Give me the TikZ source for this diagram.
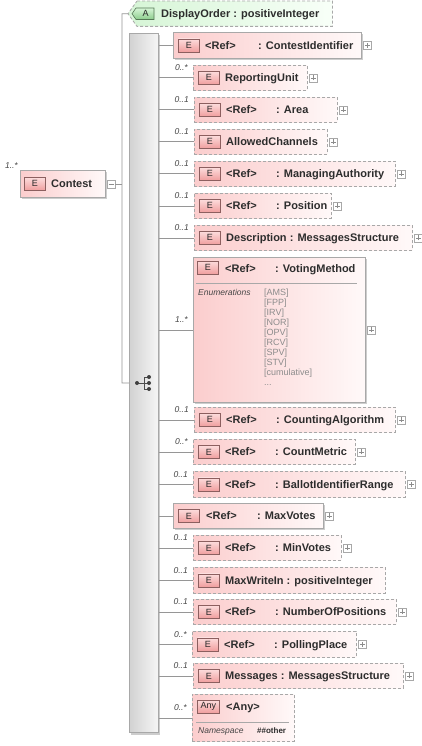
\documentclass[tikz,border=0pt]{standalone}
\usepackage{fontspec}
\setmainfont{Liberation Sans}
\usetikzlibrary{calc}
\definecolor{bordergray}{RGB}{168,168,168}
\definecolor{linegray}{RGB}{150,150,150}
\definecolor{pinkL}{RGB}{251,205,205}
\definecolor{pinkR}{RGB}{255,249,249}
\definecolor{badgeT}{RGB}{253,220,220}
\definecolor{badgeB}{RGB}{240,158,158}
\definecolor{badgeD}{RGB}{140,95,95}
\definecolor{txt}{RGB}{45,45,45}
\definecolor{multc}{RGB}{70,70,70}
\definecolor{enumc}{RGB}{140,140,140}
\definecolor{greenL}{RGB}{214,245,214}
\definecolor{greenR}{RGB}{248,255,248}
\definecolor{gbadgeT}{RGB}{215,245,215}
\definecolor{gbadgeB}{RGB}{140,205,140}
\definecolor{gbadgeD}{RGB}{85,120,85}
\definecolor{barL}{RGB}{210,210,210}
\definecolor{barR}{RGB}{246,246,246}
\definecolor{shadowc}{RGB}{205,205,205}
\tikzset{
  conn/.style={draw=linegray, line width=0.8pt},
  basebox/.style={inner sep=0, left color=pinkL, right color=pinkR, anchor=north west},
  solidbox/.style={basebox, draw=bordergray, line width=0.8pt},
  dashbox/.style={basebox, draw=bordergray, line width=0.8pt, dash pattern=on 3pt off 2pt},
  ebadge/.style={draw=badgeD, line width=0.6pt, top color=badgeT, bottom color=badgeB,
    minimum width=21pt, minimum height=13pt, inner sep=0,
    font=\fontsize{9}{10}\selectfont, text=black!85, anchor=west},
  etext/.style={font=\bfseries\fontsize{11}{13}\selectfont, text=txt, inner sep=0, anchor=base west},
  mult/.style={font=\itshape\fontsize{8.5}{10}\selectfont, text=multc, inner sep=0, anchor=east},
  enumlbl/.style={font=\itshape\fontsize{8.5}{10}\selectfont, text=multc, inner sep=0, anchor=base west},
  enumval/.style={font=\fontsize{9}{10}\selectfont, text=enumc, inner sep=0, anchor=base west},
  plusbox/.style={draw=bordergray, fill=white, minimum size=8pt, inner sep=0, anchor=west, line width=0.5pt,
    path picture={\draw[black!45, line width=0.6pt]
      ([xshift=-2.5pt]path picture bounding box.center) -- ([xshift=2.5pt]path picture bounding box.center)
      ([yshift=-2.5pt]path picture bounding box.center) -- ([yshift=2.5pt]path picture bounding box.center);}},
  minusbox/.style={draw=bordergray, fill=white, minimum size=8pt, inner sep=0, anchor=west, line width=0.5pt,
    path picture={\draw[black!45, line width=0.6pt]
      ([xshift=-2.5pt]path picture bounding box.center) -- ([xshift=2.5pt]path picture bounding box.center);}},
  seqbar/.style={draw=bordergray, line width=0.8pt, left color=barL, right color=barR, inner sep=0, anchor=north west},
  attrbox/.style={draw=bordergray, dash pattern=on 3pt off 2pt, line width=0.8pt, left color=greenL, right color=greenR},
  abadge/.style={draw=gbadgeD, line width=0.6pt, top color=gbadgeT, bottom color=gbadgeB}
}
% id, x, y, w, h, style
\newcommand\EBox[6]{\node[#6, minimum width=#4pt, minimum height=#5pt] (#1) at (#2,#3) {};}
\newcommand\Shadow[5]{\fill[shadowc] ({#2+2},{#3+2}) rectangle ({#2+#4+2},{#3+#5+2});}
\newcommand\EBadge[1]{\node[ebadge] (#1-b) at ([xshift=5pt]#1.west) {E};}
\newcommand\RefTxt[2]{\node[etext] (#1-r) at ([xshift=32pt,yshift=-4pt]#1.west) {<Ref>};
  \node[etext] (#1-n) at ([xshift=82pt,yshift=-4pt]#1.west) {: #2};}
\newcommand\PlainTxt[2]{\node[etext] (#1-n) at ([xshift=32pt,yshift=-4pt]#1.west) {#2};}
\newcommand\PlusAt[1]{\node[plusbox] (#1-p) at ([xshift=1.5pt]#1.east) {};}
\newcommand\Link[2]{\draw[conn] (seq.east |- #1.west) -- (#1.west);
  \node[mult] (#1-m) at ([xshift=-5pt,yshift=10pt]#1.west) {#2};}
\begin{document}
\begin{tikzpicture}[x=1pt,y=-1pt]
\useasboundingbox[fill=white] (0,0) rectangle (421,746);

% ---------- attribute DisplayOrder
\node[inner sep=0, minimum width=195pt, minimum height=25pt, anchor=north west] (attr) at (137,1) {};
\coordinate (attrtip) at ([xshift=-9pt]attr.west);
\path[attrbox] (attr.north west) -- (attr.north east) -- (attr.south east) -- (attr.south west) -- (attrtip) -- cycle;
\path[abadge] (136,8) -- (154,8) -- (154,19.5) -- (136,19.5) -- (132,13.75) -- cycle;
\node[font=\fontsize{9}{10}\selectfont, text=black!85, inner sep=0] (attr-a) at (145.5,13.75) {A};
\node[etext] (attr-t) at (161,17.5) {DisplayOrder : positiveInteger};

% ---------- sequence bar
\fill[shadowc] (131,35) rectangle (160,735);
\node[seqbar, minimum width=29pt, minimum height=699pt] (seq) at (129,33) {};

% ---------- Contest
\Shadow{contest}{20}{170}{85}{27}
\EBox{contest}{20}{170}{85}{27}{solidbox}
\node[ebadge] (contest-b) at ([xshift=4pt]contest.west) {E};
\node[etext] (contest-n) at ([xshift=31pt,yshift=-4pt]contest.west) {Contest};
\node[mult] (contest-m) at ([xshift=-2pt,yshift=4pt]contest.north west) {1..*};
\node[minusbox] (cminus) at ([xshift=1pt]contest.east) {};

% ---------- main connectors
\coordinate (vtop) at (122,13.75);
\coordinate (vbot) at (122,383);
\draw[conn] (attrtip) -- (vtop) -- (vbot) -- (seq.west |- vbot);
\draw[conn] (cminus.east) -- (cminus.east -| vtop);

% sequence icon
\coordinate (si) at (143,383);
\draw[black!70, line width=0.8pt] ([xshift=-6pt]si) -- ([xshift=1pt]si)
  ([xshift=1pt,yshift=6pt]si) -- ([xshift=1pt,yshift=-6pt]si)
  ([xshift=1pt,yshift=6pt]si) -- ([xshift=6pt,yshift=6pt]si)
  ([xshift=1pt]si) -- ([xshift=6pt]si)
  ([xshift=1pt,yshift=-6pt]si) -- ([xshift=6pt,yshift=-6pt]si);
\fill[black!75] ([xshift=-6pt]si) circle (2pt)
  ([xshift=6pt,yshift=6pt]si) circle (2pt)
  ([xshift=6pt]si) circle (2pt)
  ([xshift=6pt,yshift=-6pt]si) circle (2pt);

% ---------- children
% 1 ContestIdentifier
\Shadow{ci}{173}{32}{188}{26}
\EBox{ci}{173}{32}{188}{26}{solidbox}\EBadge{ci}
\node[etext] (ci-r) at ([xshift=32pt,yshift=-4pt]ci.west) {<Ref>};
\node[etext] (ci-n) at ([xshift=85pt,yshift=-4pt]ci.west) {: ContestIdentifier};
\PlusAt{ci}
\draw[conn] (seq.east |- ci.west) -- (ci.west);
% 2 ReportingUnit
\EBox{ru}{193}{65}{114}{25}{dashbox}\EBadge{ru}\PlainTxt{ru}{ReportingUnit}\PlusAt{ru}\Link{ru}{0..*}
% 3 Area
\EBox{area}{194}{97}{143}{25}{dashbox}\EBadge{area}\RefTxt{area}{Area}\PlusAt{area}\Link{area}{0..1}
% 4 AllowedChannels
\EBox{ac}{194}{129}{133}{25}{dashbox}\EBadge{ac}\PlainTxt{ac}{AllowedChannels}\PlusAt{ac}\Link{ac}{0..1}
% 5 ManagingAuthority
\EBox{ma}{194}{161}{201}{25}{dashbox}\EBadge{ma}\RefTxt{ma}{ManagingAuthority}\PlusAt{ma}\Link{ma}{0..1}
% 6 Position
\EBox{pos}{194}{193}{137}{25}{dashbox}\EBadge{pos}\RefTxt{pos}{Position}\PlusAt{pos}\Link{pos}{0..1}
% 7 Description
\EBox{desc}{194}{225}{218}{25}{dashbox}\EBadge{desc}\PlainTxt{desc}{Description : MessagesStructure}\PlusAt{desc}\Link{desc}{0..1}
% 8 VotingMethod
\Shadow{vm}{193}{257}{172}{145}
\EBox{vm}{193}{257}{172}{145}{solidbox}
\node[ebadge] (vm-b) at (197,267.5) {E};
\node[etext] (vm-r) at (225,272) {<Ref>};
\node[etext] (vm-n) at (275,272) {: VotingMethod};
\draw[bordergray, line width=0.7pt] (196,283) -- (357,283);
\node[enumlbl] (vm-e) at (198,295) {Enumerations};
\node[enumval] (vm-v1) at (264,295) {[AMS]};
\node[enumval] (vm-v2) at (264,305) {[FPP]};
\node[enumval] (vm-v3) at (264,315) {[IRV]};
\node[enumval] (vm-v4) at (264,325) {[NOR]};
\node[enumval] (vm-v5) at (264,335) {[OPV]};
\node[enumval] (vm-v6) at (264,345) {[RCV]};
\node[enumval] (vm-v7) at (264,355) {[SPV]};
\node[enumval] (vm-v8) at (264,365) {[STV]};
\node[enumval] (vm-v9) at (264,375) {[cumulative]};
\node[enumval] (vm-v10) at (264,385) {...};
\PlusAt{vm}\Link{vm}{1..*}
% 9 CountingAlgorithm
\EBox{ca}{194}{407}{201}{25}{dashbox}\EBadge{ca}\RefTxt{ca}{CountingAlgorithm}\PlusAt{ca}\Link{ca}{0..1}
% 10 CountMetric
\EBox{cm}{193}{439}{162}{25}{dashbox}\EBadge{cm}\RefTxt{cm}{CountMetric}\PlusAt{cm}\Link{cm}{0..*}
% 11 BallotIdentifierRange
\EBox{bir}{193}{471}{212}{26}{dashbox}\EBadge{bir}\RefTxt{bir}{BallotIdentifierRange}\PlusAt{bir}\Link{bir}{0..1}
% 12 MaxVotes
\Shadow{mxv}{173}{503}{150}{25}
\EBox{mxv}{173}{503}{150}{25}{solidbox}\EBadge{mxv}
\node[etext] (mxv-r) at ([xshift=33pt,yshift=-4pt]mxv.west) {<Ref>};
\node[etext] (mxv-n) at ([xshift=84pt,yshift=-4pt]mxv.west) {: MaxVotes};
\PlusAt{mxv}
\draw[conn] (seq.east |- mxv.west) -- (mxv.west);
% 13 MinVotes
\EBox{mnv}{193}{535}{148}{25}{dashbox}\EBadge{mnv}\RefTxt{mnv}{MinVotes}\PlusAt{mnv}\Link{mnv}{0..1}
% 14 MaxWriteIn
\EBox{mwi}{193}{567}{192}{26}{dashbox}\EBadge{mwi}\PlainTxt{mwi}{MaxWriteIn : positiveInteger}\Link{mwi}{0..1}
% 15 NumberOfPositions
\EBox{nop}{193}{599}{203}{25}{dashbox}\EBadge{nop}\RefTxt{nop}{NumberOfPositions}\PlusAt{nop}\Link{nop}{0..1}
% 16 PollingPlace
\EBox{pp}{192}{631}{164}{26}{dashbox}\EBadge{pp}\RefTxt{pp}{PollingPlace}\PlusAt{pp}\Link{pp}{0..*}
% 17 Messages
\EBox{msg}{193}{663}{210}{25}{dashbox}\EBadge{msg}\PlainTxt{msg}{Messages : MessagesStructure}\PlusAt{msg}\Link{msg}{0..1}
% 18 Any
\EBox{any}{192}{694}{102}{47}{dashbox}
\node[ebadge, minimum width=22pt] (any-b) at (197,706.5) {Any};
\node[etext] (any-n) at (226,710.5) {<Any>};
\draw[bordergray, line width=0.7pt] (196,722) -- (289,722);
\node[enumlbl] (any-l) at (198,733) {Namespace};
\node[etext, font=\bfseries\fontsize{8}{10}\selectfont] (any-v) at (257,733) {\#\#other};
\Link{any}{0..*}
\end{tikzpicture}
\end{document}
